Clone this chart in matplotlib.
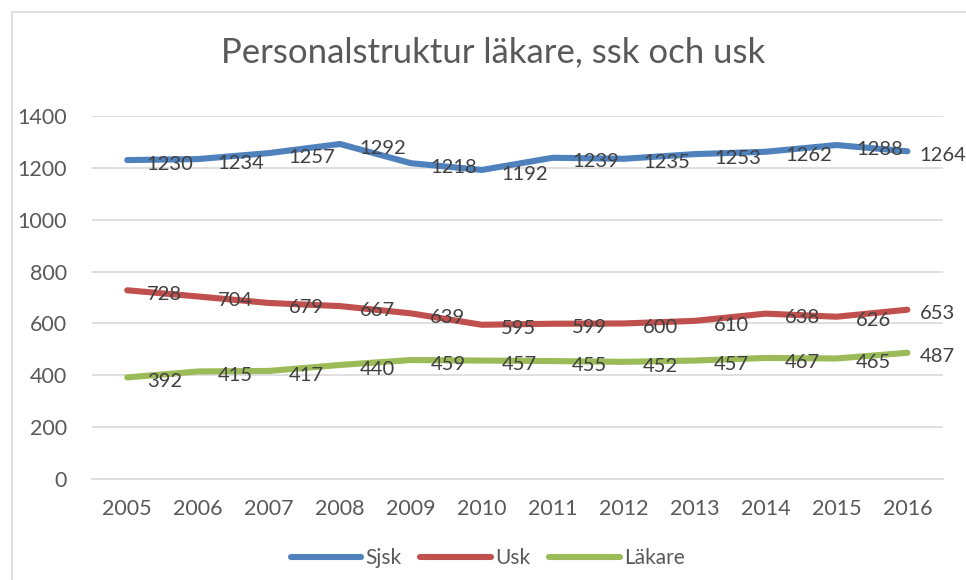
import matplotlib.pyplot as plt
from matplotlib.patches import Rectangle

years = [2005, 2006, 2007, 2008, 2009, 2010, 2011, 2012, 2013, 2014, 2015, 2016]
sjsk = [1230, 1234, 1257, 1292, 1218, 1192, 1239, 1235, 1253, 1262, 1288, 1264]
usk = [728, 704, 679, 667, 639, 595, 599, 600, 610, 638, 626, 653]
lakare = [392, 415, 417, 440, 459, 457, 455, 452, 457, 467, 465, 487]

plt.rcParams['font.family'] = ['Lato', 'DejaVu Sans']

fig = plt.figure(figsize=(9.66, 5.8), dpi=100)
ax = fig.add_axes([0.095, 0.174, 0.881, 0.626])

# light chart border like the spreadsheet frame
fig.patches.append(Rectangle((12 / 966, -0.1), 2, (580 - 12) / 580 + 0.1,
                             transform=fig.transFigure, fill=False,
                             edgecolor='#d9d9d9', linewidth=1.2))

x = list(range(len(years)))
series = [(sjsk, 'Sjsk', '#4F81BD'), (usk, 'Usk', '#C0504D'), (lakare, 'Läkare', '#9BBB59')]
for vals, name, col in series:
    ax.plot(x, vals, color=col, linewidth=4.4, solid_capstyle='round',
            solid_joinstyle='round', label=name, zorder=3)
    for xi, v in zip(x, vals):
        dx = 9 if xi == len(x) - 1 else 14
        ax.annotate(str(v), (xi, v), xytext=(dx, -3), textcoords='offset points',
                    ha='left', va='center', fontsize=14.5, color='#404040',
                    annotation_clip=False, zorder=4)

ax.set_xlim(-0.5, len(years) - 0.5)
ax.set_ylim(0, 1400)
ax.set_yticks(range(0, 1401, 200))
ax.set_xticks(x)
ax.set_xticklabels([str(y) for y in years])
ax.tick_params(length=0, labelsize=15.5, labelcolor='#595959')
ax.tick_params(axis='y', pad=18)
ax.tick_params(axis='x', pad=14)
ax.grid(axis='y', color='#d9d9d9', linewidth=1.2)
ax.set_axisbelow(True)
for s in ax.spines.values():
    s.set_visible(False)
ax.spines['bottom'].set_visible(True)
ax.spines['bottom'].set_color('#d9d9d9')
ax.spines['bottom'].set_linewidth(1.2)

fig.text(0.51, 0.91, 'Personalstruktur läkare, ssk och usk', ha='center', va='center',
         fontsize=25, color='#595959')

leg = fig.legend(loc='center', bbox_to_anchor=(0.505, 0.038), ncol=3, frameon=False,
                 fontsize=15, handlelength=3.4, columnspacing=0.9, handletextpad=0.2)
for t in leg.get_texts():
    t.set_color('#595959')

fig.savefig('out.png', dpi=100)
